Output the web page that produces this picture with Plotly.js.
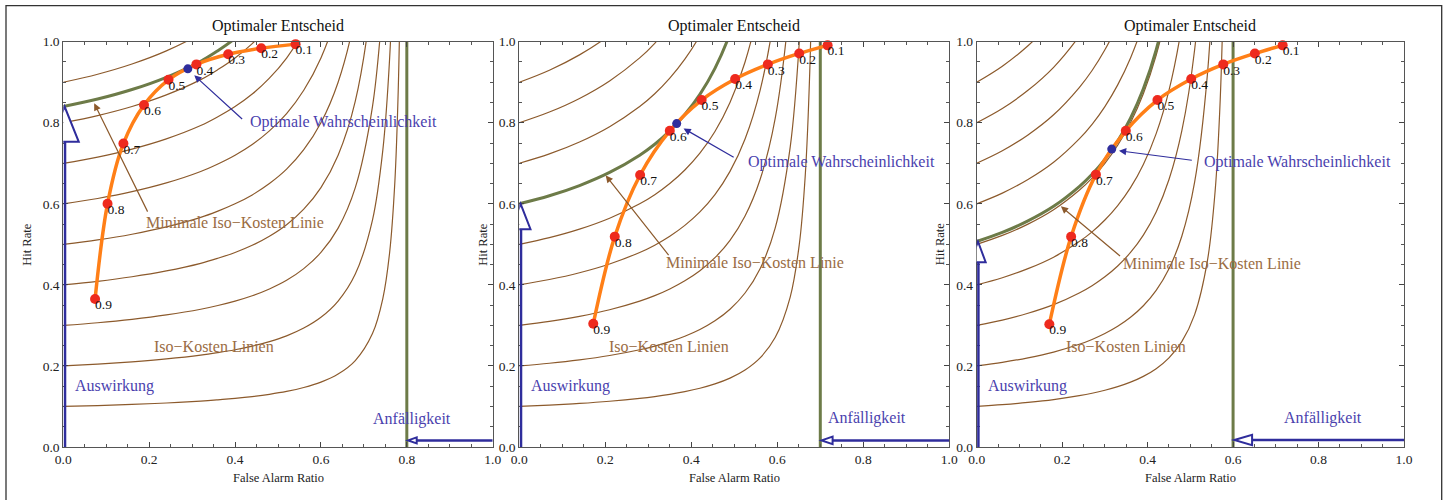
<!DOCTYPE html>
<html><head><meta charset="utf-8">
<script src="https://cdn.plot.ly/plotly-3.0.1.min.js"></script>
<style>html,body{margin:0;padding:0;background:#fff}#chart{width:1448px;height:500px}</style>
</head><body><div id="chart"></div><script>
// ---- data ----
const pointLabels = ['0.9','0.8','0.7','0.6','0.5','0.4','0.3','0.2','0.1'];
const rocF1 = [0.074,0.103,0.140,0.188,0.245,0.310,0.384,0.461,0.541];
const rocH1 = [0.365,0.600,0.749,0.844,0.906,0.944,0.969,0.984,0.994];
const rocF2 = [0.172,0.222,0.281,0.350,0.424,0.502,0.578,0.651,0.717];
const rocH2 = [0.304,0.519,0.671,0.780,0.856,0.908,0.944,0.971,0.991];
const rocF3 = [0.170,0.221,0.279,0.349,0.423,0.502,0.577,0.651,0.716];
const rocH3 = [0.303,0.519,0.672,0.780,0.856,0.908,0.944,0.971,0.991];
const optF = [0.290,0.366,0.316];
const optH = [0.933,0.798,0.735];
const isoLevels = [0.1,0.2,0.3,0.4,0.5,0.6,0.7,0.8,0.9];
const minIsoLevel = [0.84,0.60,0.507];
const limitF = [0.8,0.7,0.6];
// common iso-cost profile of each panel (hit rate relative to its start value)
const isoF1 = [0,0.08,0.16,0.24,0.32,0.36,0.40,0.44,0.48,0.52,0.56,0.60,0.64,0.68,0.72,0.744,0.76,0.772,0.78,0.7856];
const isoG1 = [1,1.022,1.05,1.086,1.133,1.164,1.2,1.244,1.3,1.371,1.467,1.6,1.8,2.133,2.8,3.657,4.8,6.514,8.8,11.91];
const isoF2 = [0,0.07,0.14,0.21,0.28,0.315,0.35,0.385,0.42,0.455,0.49,0.525,0.56,0.595,0.63,0.651,0.665,0.6755,0.6825,0.6874];
const isoG2 = [1,1.033,1.075,1.129,1.2,1.245,1.3,1.367,1.45,1.557,1.7,1.9,2.2,2.7,3.7,4.986,6.7,9.271,12.7,17.37];
const isoF3 = [0,0.06,0.12,0.18,0.24,0.27,0.30,0.33,0.36,0.39,0.42,0.45,0.48,0.51,0.54,0.558,0.57,0.579,0.585];
const isoG3 = [1,1.044,1.1,1.171,1.267,1.327,1.4,1.489,1.6,1.743,1.933,2.2,2.6,3.267,4.6,6.314,8.6,12.03,16.6];
const tickVals = [0,0.2,0.4,0.6,0.8,1.0];
const tickText = ['0.0','0.2','0.4','0.6','0.8','1.0'];

// ---- styling ----
const SERIF = 'Liberation Serif, Times New Roman, serif';
const BROWN = '#8c5a2c', OLIVE = '#6d7b48', ORANGE = '#ff7f17', RED = '#ee2a1e';
const BLUE = '#2f2d9c', BLUE_T = '#4a3fae', BROWN_T = '#9a6c43';

const panels = [
  {rocF:rocF1, rocH:rocH1, isoF:isoF1, isoG:isoG1},
  {rocF:rocF2, rocH:rocH2, isoF:isoF2, isoG:isoG2},
  {rocF:rocF3, rocH:rocH3, isoF:isoF3, isoG:isoG3}
];
// layout geometry (pixels)
const W = 1448, H = 500;
const xPix = [[63.3,492.7],[519.3,949.3],[976.7,1404]];
const yPix = [41.7,447];
// annotation positions per panel
const ann = [
  {optTxt:[0.43,0.803], optHead:[0.305,0.917], optTail:[0.42,0.806],
   minTxt:[0.40,0.553], minHead:[0.072,0.848], minTail:[0.198,0.577],
   isoTxt:[0.351,0.247], ausTxt:[0.12,0.151], anfTxt:[0.812,0.07],
   hArrowY:0.0163, hHeadW:0.023, hHeadH:0.0074,
   vBase:0.753, vHalfW:0.033},
  {optTxt:[0.527,0.703], optHead:[0.382,0.786], optTail:[0.502,0.713],
   minTxt:[0.549,0.454], minHead:[0.201,0.67], minTail:[0.35,0.47],
   isoTxt:[0.349,0.247], ausTxt:[0.119,0.151], anfTxt:[0.809,0.0715],
   hArrowY:0.0163, hHeadW:0.0286, hHeadH:0.0094,
   vBase:0.5375, vHalfW:0.023},
  {optTxt:[0.527,0.703], optHead:[0.333,0.731], optTail:[0.507,0.707],
   minTxt:[0.5495,0.452], minHead:[0.197,0.594], minTail:[0.339,0.468],
   isoTxt:[0.349,0.248], ausTxt:[0.118,0.151], anfTxt:[0.81,0.0725],
   hArrowY:0.0173, hHeadW:0.0445, hHeadH:0.013,
   vBase:0.456, vHalfW:0.018}
];

const traces = [], shapes = [], annotations = [];
const layout = {
  width: W, height: H, margin:{l:0,r:0,t:0,b:0},
  paper_bgcolor:'#fff', plot_bgcolor:'#fff', showlegend:false,
  font:{family:SERIF, color:'#222'}
};

panels.forEach((p, i) => {
  const n = i === 0 ? '' : String(i+1);
  const xa = 'x' + n, ya = 'y' + n;
  const dom = [xPix[i][0]/W, xPix[i][1]/W];
  const axCommon = {
    range:[0,1], showgrid:false, zeroline:false, showline:true, linecolor:'#555', linewidth:1,
    mirror:'ticks', ticks:'inside', ticklen:5, tickwidth:1, tickcolor:'#444',
    tickvals:tickVals, ticktext:tickText, tickfont:{family:SERIF, size:13.5, color:'#222'},
    minor:{dtick:0.05, ticks:'inside', ticklen:3, tickcolor:'#555', showgrid:false},
    fixedrange:true
  };
  layout['xaxis' + n] = Object.assign({}, axCommon, {domain:dom, anchor:ya});
  layout['yaxis' + n] = Object.assign({}, axCommon, {domain:[1 - yPix[1]/H, 1 - yPix[0]/H], anchor:xa});

  // iso-cost curves
  isoLevels.forEach(lv => {
    traces.push({type:'scatter', mode:'lines', xaxis:xa, yaxis:ya, x:p.isoF,
      y:p.isoG.map(g => lv*g), line:{color:BROWN, width:1.2, shape:'spline'}, hoverinfo:'skip'});
  });
  // minimal iso-cost line
  traces.push({type:'scatter', mode:'lines', xaxis:xa, yaxis:ya, x:p.isoF,
    y:p.isoG.map(g => minIsoLevel[i]*g), line:{color:OLIVE, width:3, shape:'spline'}, hoverinfo:'skip'});
  // susceptibility limit
  traces.push({type:'scatter', mode:'lines', xaxis:xa, yaxis:ya, x:[limitF[i],limitF[i]], y:[0,1],
    line:{color:OLIVE, width:3}, hoverinfo:'skip'});
  // ROC curve
  traces.push({type:'scatter', mode:'lines', xaxis:xa, yaxis:ya, x:p.rocF, y:p.rocH,
    line:{color:ORANGE, width:3.5, shape:'spline'}, hoverinfo:'skip'});
  traces.push({type:'scatter', mode:'markers', xaxis:xa, yaxis:ya, x:p.rocF, y:p.rocH,
    marker:{color:RED, size:10}, cliponaxis:false, hoverinfo:'skip'});
  traces.push({type:'scatter', mode:'markers', xaxis:xa, yaxis:ya, x:[optF[i]], y:[optH[i]],
    marker:{color:BLUE, size:9}, cliponaxis:false, hoverinfo:'skip'});
  traces.push({type:'scatter', mode:'text', xaxis:xa, yaxis:ya, x:p.rocF, y:p.rocH,
    text:pointLabels, textposition:'bottom right', textfont:{family:SERIF, size:13.5, color:'#111'},
    cliponaxis:false, hoverinfo:'skip'});

  const a = ann[i];
  // blue horizontal arrow (Anfälligkeit)
  shapes.push({type:'line', xref:xa, yref:ya, x0:limitF[i]+a.hHeadW, x1:1, y0:a.hArrowY, y1:a.hArrowY,
    line:{color:BLUE, width:2.5}, layer:'above'});
  shapes.push({type:'path', xref:xa, yref:ya, layer:'above', fillcolor:'#fff', line:{color:BLUE, width:2},
    path:`M ${limitF[i]+0.003},${a.hArrowY} L ${limitF[i]+a.hHeadW},${a.hArrowY+a.hHeadH} L ${limitF[i]+a.hHeadW},${a.hArrowY-a.hHeadH} Z`});
  // blue vertical arrow (Auswirkung)
  shapes.push({type:'line', xref:xa, yref:ya, x0:0.004, x1:0.004, y0:0, y1:a.vBase,
    line:{color:BLUE, width:2.5}, layer:'above'});
  shapes.push({type:'path', xref:xa, yref:ya, layer:'above', fillcolor:'#fff', line:{color:BLUE, width:2},
    path:`M ${0.003-a.vHalfW},${a.vBase} L ${0.003+a.vHalfW},${a.vBase} L 0.003,${minIsoLevel[i]} Z`});

  // annotation arrows
  annotations.push({xref:xa, yref:ya, axref:xa, ayref:ya, x:a.optHead[0], y:a.optHead[1],
    ax:a.optTail[0], ay:a.optTail[1], text:'', showarrow:true, arrowhead:2, arrowsize:1.2,
    arrowwidth:1.2, arrowcolor:BLUE});
  annotations.push({xref:xa, yref:ya, axref:xa, ayref:ya, x:a.minHead[0], y:a.minHead[1],
    ax:a.minTail[0], ay:a.minTail[1], text:'', showarrow:true, arrowhead:2, arrowsize:1.2,
    arrowwidth:1.2, arrowcolor:BROWN});
  // texts
  const txt = (pos, t, col, xanchor) => annotations.push({xref:xa, yref:ya, x:pos[0], y:pos[1], text:t,
    showarrow:false, xanchor:xanchor||'center', yanchor:'middle', font:{family:SERIF, size:16, color:col}});
  txt(a.optTxt, 'Optimale Wahrscheinlichkeit', BLUE_T, 'left');
  txt(a.minTxt, 'Minimale Iso\u2212Kosten Linie', BROWN_T);
  txt(a.isoTxt, 'Iso\u2212Kosten Linien', BROWN_T);
  txt(a.ausTxt, 'Auswirkung', BLUE_T);
  txt(a.anfTxt, 'Anf\u00e4lligkeit', BLUE_T);

  // titles (paper coordinates)
  const cx = (xPix[i][0] + xPix[i][1]) / 2 / W;
  annotations.push({xref:'paper', yref:'paper', x:cx, y:1 - 26/H, text:'Optimaler Entscheid',
    showarrow:false, xanchor:'center', yanchor:'middle', font:{family:SERIF, size:16, color:'#111'}});
  annotations.push({xref:'paper', yref:'paper', x:cx, y:1 - 478/H, text:'False Alarm Ratio',
    showarrow:false, xanchor:'center', yanchor:'middle', font:{family:SERIF, size:12.5, color:'#222'}});
  annotations.push({xref:'paper', yref:'paper', x:(xPix[i][0] - 37)/W, y:1 - 244.5/H, text:'Hit Rate',
    textangle:-90, showarrow:false, xanchor:'center', yanchor:'middle', font:{family:SERIF, size:12.5, color:'#222'}});
});

// outer frame
shapes.push({type:'rect', xref:'paper', yref:'paper', x0:6/W, x1:1441.7/W, y0:-0.05, y1:1 - 5.7/H,
  line:{color:'#333', width:1.3}, fillcolor:'rgba(0,0,0,0)', layer:'above'});

layout.shapes = shapes;
layout.annotations = annotations;
Plotly.newPlot('chart', traces, layout, {staticPlot:true, displayModeBar:false});
</script></body></html>
